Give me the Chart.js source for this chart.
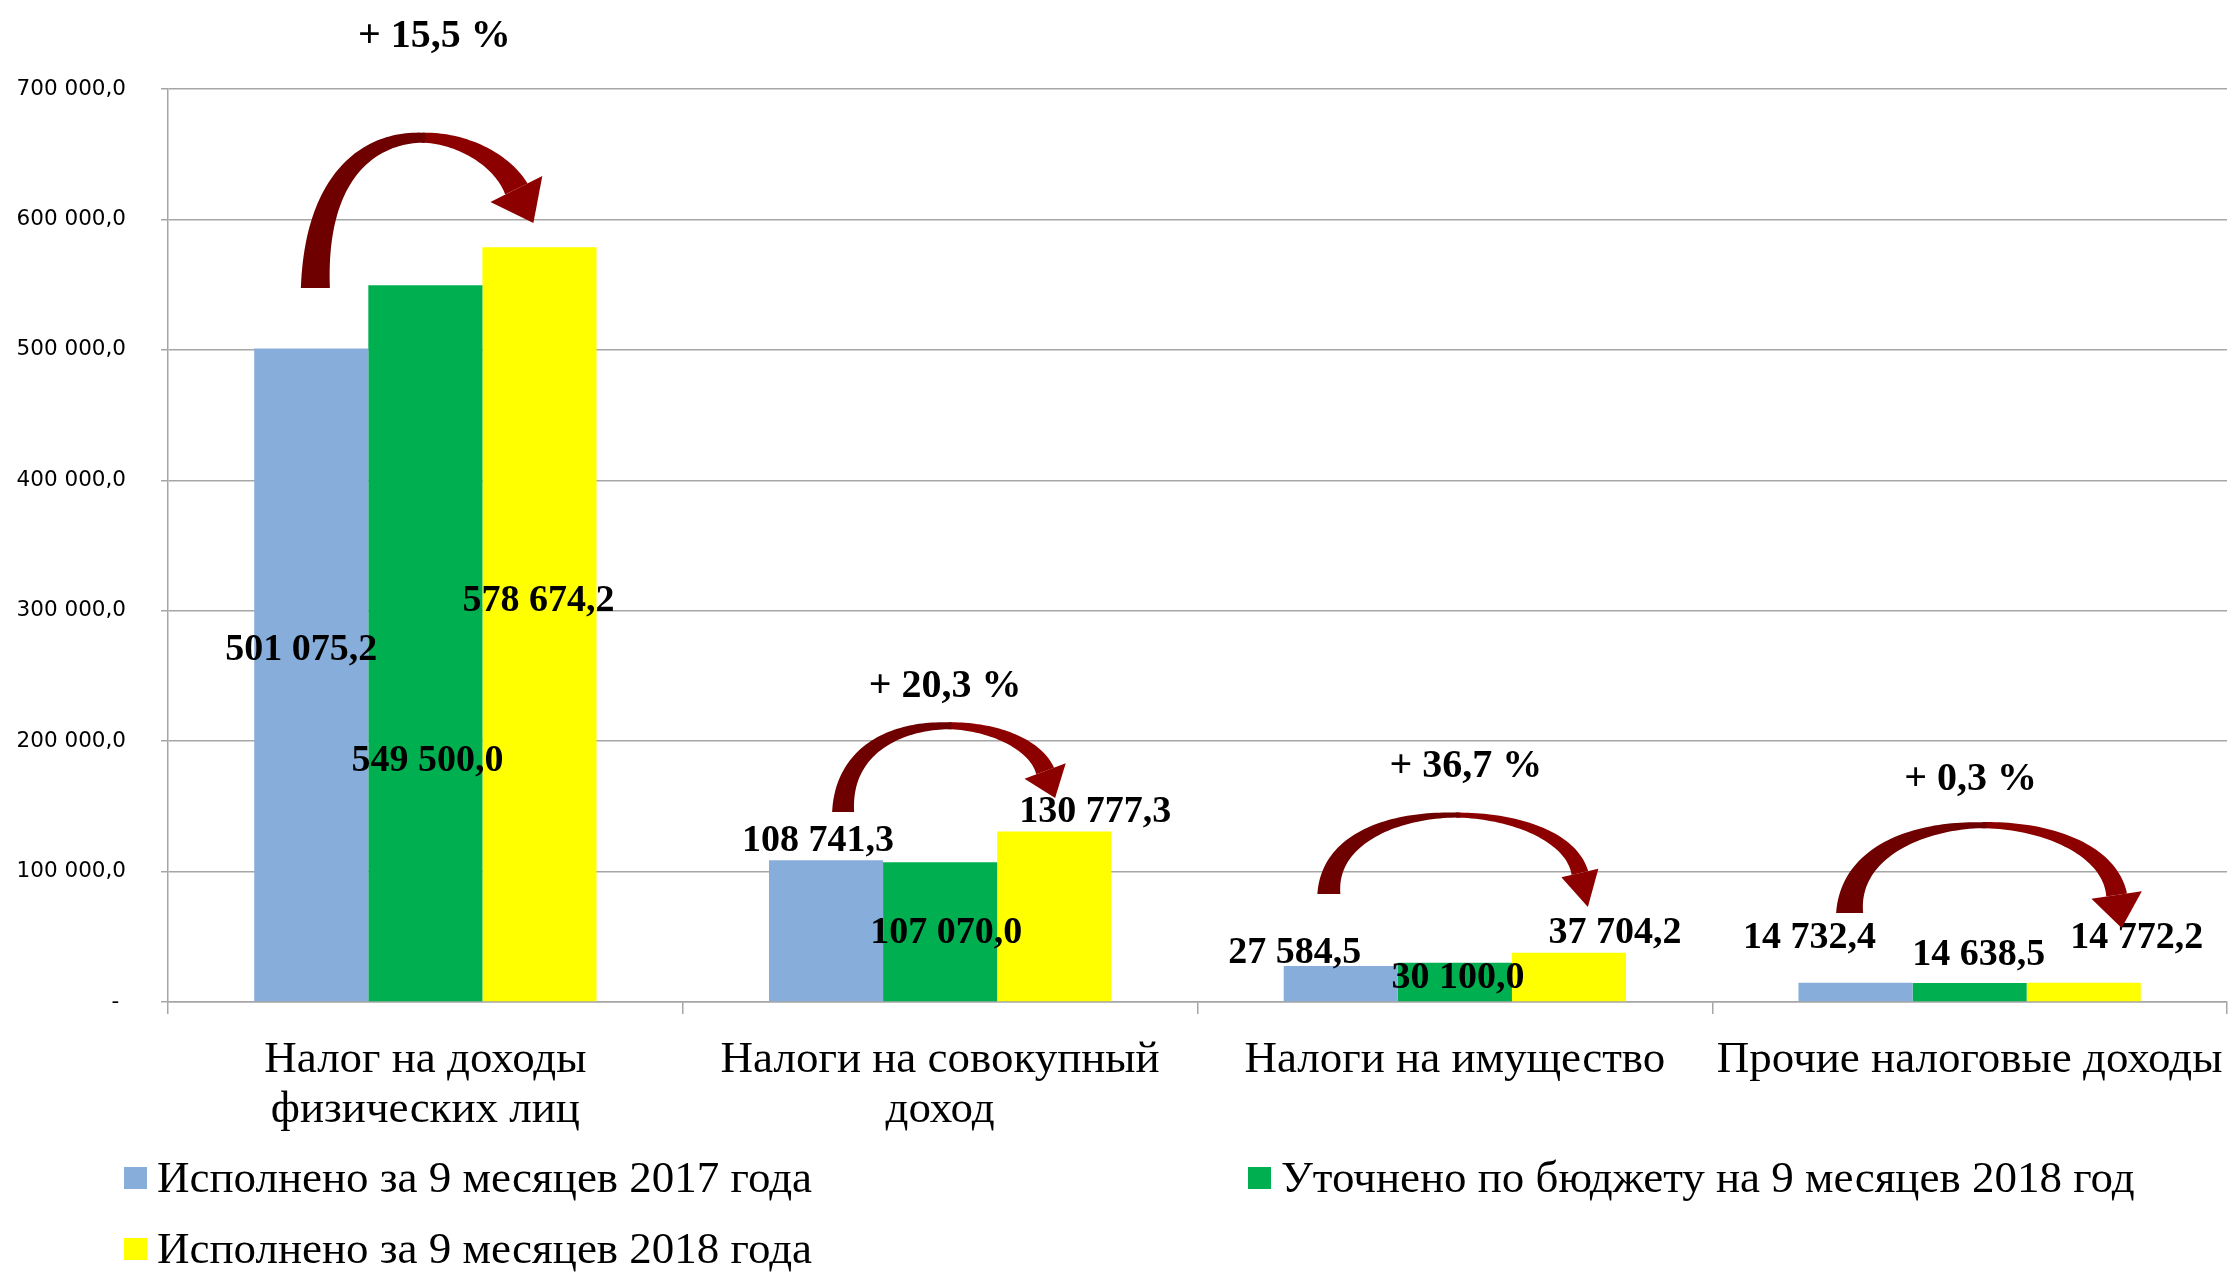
<!DOCTYPE html>
<html>
<head>
<meta charset="utf-8">
<script src="https://cdn.jsdelivr.net/npm/chart.js@4.4.1/dist/chart.umd.min.js"></script>
<style>
  html, body { margin: 0; padding: 0; background: #fff; }
  canvas { display: block; }
</style>
</head>
<body>
<canvas id="chart" width="2231" height="1272"></canvas>
<script>
const categories = [
    ['Налог на доходы', 'физических лиц'],
    ['Налоги на совокупный', 'доход'],
    'Налоги на имущество',
    'Прочие налоговые доходы'
];
const seriesNames = [
    'Исполнено за 9 месяцев 2017 года',
    'Уточнено по бюджету на 9 месяцев 2018 год',
    'Исполнено за 9 месяцев 2018 года'
];
const done2017 = [501075.2, 108741.3, 27584.5, 14732.4];
const plan2018 = [549500.0, 107070.0, 30100.0, 14638.5];
const done2018 = [578674.2, 130777.3, 37704.2, 14772.2];
const yMax = 700000;
const yStep = 100000;

const colors = ['#87AEDB', '#00B050', '#FFFF00'];

// label nudges (px) from top-centre of each bar, as placed by hand in the original
const labelShift = [
    [[-10, 302], [-8, -19], [-46, -13], [-46, -45]],
    [[2, 476], [6, 71], [3, 15], [9, -28]],
    [[-1, 354], [41, -19], [46, -20], [53, -45]]
];

// curved arrows: x offset from category centre, height above zero line (px)
const arrows = [
    { tail: [-110, 714], head: [91, 813], tip: [108, 779], apex: 863, wTail: 29, wTop: 10, wHead: 25, wBase: 58, pct: [9, 965] },
    { tail: [-97, 190], head: [105, 231], tip: [115, 204], apex: 276, wTail: 22, wTop: 7, wHead: 19, wBase: 44, pct: [5, 315] },
    { tail: [-126, 108], head: [125, 129], tip: [133, 95], apex: 187, wTail: 23, wTop: 5, wHead: 17, wBase: 38, pct: [11, 235] },
    { tail: [-120, 89], head: [147, 107], tip: [152, 74], apex: 177, wTail: 27, wTop: 6, wHead: 21, wBase: 51, pct: [1, 222] }
];

const legendSpots = [[124, 1178], [1248, 1178], [124, 1249]];

function fmt(v) {
    const parts = v.toFixed(1).split('.');
    return parts[0].replace(/\B(?=(\d{3})+(?!\d))/g, ' ') + ',' + parts[1];
}

function drawArrow(ctx, a, cx, zeroY) {
    const P = (p) => ({ x: cx + p[0], y: zeroY - p[1] });
    const T = P(a.tail), B = P(a.head), tip = P(a.tip);
    let dx = tip.x - B.x, dy = tip.y - B.y;
    const len = Math.hypot(dx, dy);
    dx /= len; dy /= len;
    const apexY = zeroY - a.apex;
    const k1 = (T.y - apexY) * 1.33;
    const k2 = (B.y - apexY) * 1.33 / dy;
    const P1 = { x: T.x, y: T.y - k1 };
    const P2 = { x: B.x - dx * k2, y: B.y - dy * k2 };

    const N = 90, pts = [];
    let topIdx = 0;
    for (let i = 0; i <= N; i++) {
        const t = i / N, u = 1 - t;
        const x = u*u*u*T.x + 3*u*u*t*P1.x + 3*u*t*t*P2.x + t*t*t*B.x;
        const y = u*u*u*T.y + 3*u*u*t*P1.y + 3*u*t*t*P2.y + t*t*t*B.y;
        const tx = 3*u*u*(P1.x - T.x) + 6*u*t*(P2.x - P1.x) + 3*t*t*(B.x - P2.x);
        const ty = 3*u*u*(P1.y - T.y) + 6*u*t*(P2.y - P1.y) + 3*t*t*(B.y - P2.y);
        const tl = Math.hypot(tx, ty) || 1;
        pts.push({ x, y, nx: -ty / tl, ny: tx / tl });
        if (y < pts[topIdx].y) topIdx = i;
    }
    pts.forEach((p, i) => {
        const w = i <= topIdx
            ? a.wTop + (a.wTail - a.wTop) * Math.pow(1 - i / topIdx, 1.3)
            : a.wTop + (a.wHead - a.wTop) * Math.pow((i - topIdx) / (N - topIdx), 1.3);
        p.w = w / 2;
    });

    const band = (from, to, color) => {
        ctx.beginPath();
        for (let i = from; i <= to; i++) {
            const p = pts[i];
            const fn = i === from ? 'moveTo' : 'lineTo';
            ctx[fn](p.x + p.nx * p.w, p.y + p.ny * p.w);
        }
        for (let i = to; i >= from; i--) {
            const p = pts[i];
            ctx.lineTo(p.x - p.nx * p.w, p.y - p.ny * p.w);
        }
        ctx.closePath();
        ctx.fillStyle = color;
        ctx.fill();
    };
    band(topIdx, N, '#8C0000');
    band(0, topIdx + 1, '#6E0000');

    // head
    const px = -dy, py = dx;
    ctx.beginPath();
    ctx.moveTo(B.x + px * a.wBase / 2, B.y + py * a.wBase / 2);
    ctx.lineTo(tip.x, tip.y);
    ctx.lineTo(B.x - px * a.wBase / 2, B.y - py * a.wBase / 2);
    ctx.closePath();
    ctx.fillStyle = '#8C0000';
    ctx.fill();
}

const overlay = {
    id: 'overlay',
    afterDatasetsDraw(chart) {
        const ctx = chart.ctx;
        const xs = chart.scales.x, ys = chart.scales.y;
        const zeroY = ys.getPixelForValue(0);
        ctx.save();

        // value labels
        ctx.font = 'bold 38px "Liberation Serif", "Times New Roman", serif';
        ctx.fillStyle = '#000';
        ctx.textAlign = 'center';
        ctx.textBaseline = 'middle';
        chart.data.datasets.forEach((ds, di) => {
            chart.getDatasetMeta(di).data.forEach((bar, i) => {
                const s = labelShift[di][i];
                ctx.fillText(fmt(ds.data[i]), bar.x + s[0], bar.y + s[1]);
            });
        });

        // arrows and growth percent
        arrows.forEach((a, i) => {
            const cx = xs.getPixelForValue(i);
            drawArrow(ctx, a, cx, zeroY);
            const pct = (done2018[i] / done2017[i] - 1) * 100;
            ctx.font = 'bold 40px "Liberation Serif", "Times New Roman", serif';
            ctx.fillStyle = '#000';
            ctx.fillText('+ ' + pct.toFixed(1).replace('.', ',') + ' %', cx + a.pct[0], zeroY - a.pct[1]);
        });
        ctx.restore();
    },
    afterDraw(chart) {
        const ctx = chart.ctx;
        ctx.save();
        ctx.font = '45px "Liberation Serif", "Times New Roman", serif';
        ctx.textAlign = 'left';
        ctx.textBaseline = 'middle';
        chart.data.datasets.forEach((ds, di) => {
            const [x, y] = legendSpots[di];
            ctx.fillStyle = ds.backgroundColor;
            ctx.fillRect(x, y - 11, 23, 22);
            ctx.fillStyle = '#000';
            ctx.fillText(ds.label, x + 33, y + 2);
        });
        ctx.restore();
    }
};

new Chart(document.getElementById('chart'), {
    type: 'bar',
    data: {
        labels: categories,
        datasets: [
            { label: seriesNames[0], data: done2017, backgroundColor: colors[0] },
            { label: seriesNames[1], data: plan2018, backgroundColor: colors[1] },
            { label: seriesNames[2], data: done2018, backgroundColor: colors[2] }
        ]
    },
    options: {
        responsive: false,
        animation: false,
        layout: { padding: { top: 89, right: 4, left: 0, bottom: 0 } },
        datasets: { bar: { categoryPercentage: 0.665, barPercentage: 1.0 } },
        plugins: { legend: { display: false }, tooltip: { enabled: false } },
        scales: {
            x: {
                afterFit(scale) {
                    scale.height = 270;
                    // long last label may overhang, keep plot width as in original
                    scale.paddingLeft = 0;
                    scale.paddingRight = 0;
                },
                grid: { offset: true, drawOnChartArea: false, drawTicks: true, tickLength: 12, color: '#A6A6A6', lineWidth: 1.5 },
                border: { color: '#A6A6A6', width: 1.5 },
                ticks: {
                    color: '#000',
                    maxRotation: 0,
                    autoSkip: false,
                    padding: 21,
                    font: { family: '"Liberation Serif", "Times New Roman", serif', size: 45, lineHeight: 1.11 }
                }
            },
            y: {
                min: 0,
                max: yMax,
                afterFit(scale) { scale.width = 168; },
                grid: { color: '#A6A6A6', lineWidth: 1.5, tickLength: 7 },
                border: { color: '#A6A6A6', width: 1.5 },
                ticks: {
                    stepSize: yStep,
                    color: '#000',
                    padding: 35,
                    font: { family: '"DejaVu Sans", sans-serif', size: 21.5 },
                    callback: (v) => v === 0 ? '- ' : fmt(v)
                }
            }
        }
    },
    plugins: [overlay]
});
</script>
</body>
</html>
